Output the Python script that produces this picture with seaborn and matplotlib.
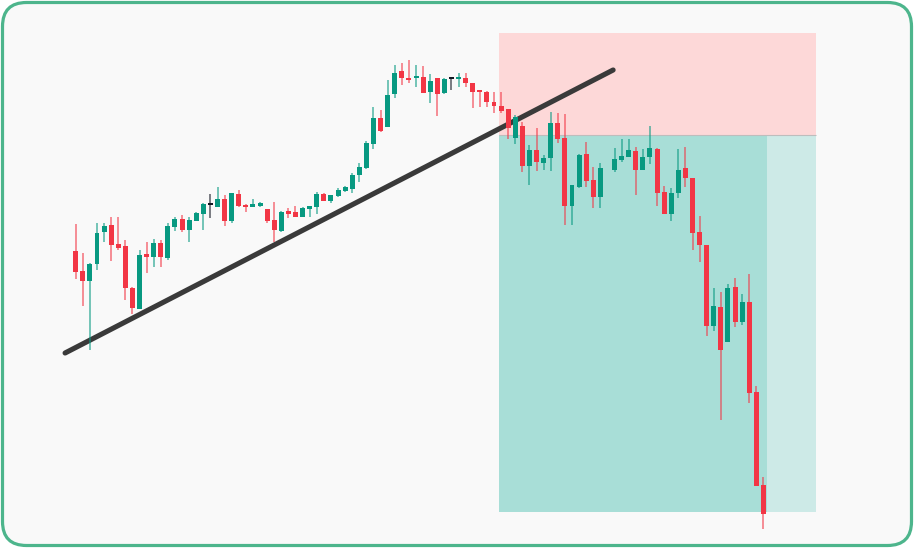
import matplotlib
matplotlib.use("Agg")
import matplotlib.pyplot as plt
from matplotlib.patches import FancyBboxPatch
from matplotlib.transforms import IdentityTransform
import numpy as np
import pandas as pd
import seaborn as sns

## candle data (one slot is empty, no trade that bar)
opens = [
    34.9, 32.9, 31.9, 33.6, 36.8, 37.5, 35.6, 35.4, 31.2, 29.1,
    34.6, 34.3, 35.7, 34.2, 37.3, 38.1, 37.0, 37.9, 38.6, 39.5,
    39.3, 40.1, 37.9, 40.6, 39.5, 39.3, 39.4, 39.1, 38.0, 36.9,
    38.9, 38.8, 38.3, 39.1, 39.3, 40.6, 39.9, 40.4, 40.9, 41.1,
    42.5, 43.2, 45.6, 48.2, 47.3, 50.6, 52.9, 52.2, 52.2, 52.3,
    50.8, 52.2, 50.7, 52.1, 52.1, 52.2, 51.7, 51.0, 50.8, 49.8,
    49.4, 49.1, 46.2, 47.4, 43.4, 45.0, 43.7, 44.2, 47.7, 46.2,
    39.4, 41.3, 44.6, 42.0, 40.3, None, 43.0, 44.0, 44.3, 44.9,
    43.0, 44.3, 45.1, 40.8, 38.6, 40.7, 43.2, 42.2, 36.8, 35.5,
    27.4, 29.3, 25.8, 31.3, 27.8, 29.8, 20.8, 11.5,
]
highs = [
    37.6, 34.7, 33.7, 37.7, 37.7, 38.3, 38.3, 36.0, 31.3, 35.0,
    35.8, 36.1, 36.0, 37.7, 38.3, 38.5, 38.3, 38.8, 39.7, 40.6,
    41.3, 40.5, 40.7, 41.0, 39.6, 40.1, 39.8, 39.1, 39.8, 38.9,
    39.2, 39.4, 39.3, 39.4, 40.8, 40.7, 40.5, 41.2, 41.4, 42.7,
    43.7, 45.9, 49.3, 49.0, 52.0, 53.5, 53.7, 54.0, 53.5, 53.4,
    52.6, 52.2, 52.2, 52.1, 52.7, 52.7, 51.7, 51.0, 50.9, 50.8,
    50.8, 49.1, 48.5, 47.8, 45.5, 47.2, 44.5, 48.8, 48.7, 48.6,
    41.5, 44.6, 45.8, 43.3, 43.7, None, 45.2, 46.1, 46.1, 45.3,
    45.1, 47.4, 45.2, 41.4, 41.2, 45.1, 45.3, 42.2, 38.4, 35.5,
    31.2, 30.8, 31.6, 32.2, 30.6, 32.6, 21.4, 12.3,
]
lows = [
    32.1, 29.4, 25.0, 33.0, 35.8, 33.9, 35.0, 30.0, 28.6, 29.1,
    32.7, 33.3, 33.3, 34.0, 36.9, 36.8, 35.8, 37.9, 37.0, 38.2,
    39.3, 37.4, 37.7, 39.3, 38.8, 39.3, 39.3, 37.7, 35.8, 36.8,
    38.2, 38.3, 38.3, 38.3, 38.6, 39.9, 39.7, 40.3, 40.8, 40.7,
    41.8, 43.1, 45.1, 46.8, 47.3, 50.2, 51.5, 51.7, 51.3, 50.7,
    49.7, 48.4, 50.6, 51.0, 51.3, 51.3, 49.2, 49.3, 49.3, 48.7,
    48.7, 46.1, 45.6, 42.8, 41.5, 42.9, 43.0, 42.9, 45.7, 37.5,
    37.5, 41.2, 41.3, 39.2, 39.2, None, 42.8, 43.8, 44.3, 40.5,
    43.0, 43.6, 39.4, 38.6, 37.9, 40.2, 41.3, 35.0, 33.8, 26.4,
    26.9, 18.0, 25.8, 27.3, 27.5, 19.7, 11.4, 7.1,
]
closes = [
    32.8, 31.9, 33.6, 36.7, 37.4, 35.5, 35.2, 31.2, 29.2, 34.5,
    34.3, 35.7, 34.3, 37.4, 38.1, 37.0, 38.0, 38.7, 39.6, 39.5,
    40.1, 37.9, 40.7, 39.4, 39.3, 39.6, 39.7, 37.9, 37.0, 38.8,
    38.6, 38.3, 39.2, 39.4, 40.6, 39.9, 40.5, 41.0, 41.3, 42.5,
    43.3, 45.7, 48.2, 46.9, 50.5, 52.7, 52.2, 52.0, 52.4, 50.7,
    51.9, 50.6, 52.1, 52.1, 52.3, 51.7, 50.8, 50.8, 49.8, 49.4,
    48.9, 47.2, 48.3, 43.4, 45.0, 43.8, 44.2, 47.7, 46.1, 39.4,
    41.5, 44.5, 41.9, 40.3, 43.2, None, 44.1, 44.4, 45.0, 43.0,
    44.3, 45.2, 40.7, 38.6, 40.7, 43.0, 42.2, 36.7, 35.5, 27.4,
    29.4, 25.0, 31.2, 27.8, 29.8, 20.7, 11.4, 8.6,
]

## short position tool: stop / entry / target levels and bar span
stop_price = 56.7
entry_price = 46.5
target_price = 8.8
trade_start = 59.7
trade_end = 97.5
tool_end = 104.4

## trendline anchor points (bar index, price)
trend_x = [-1.5, 75.8]
trend_y = [24.7, 53.0]

GREEN = "#089981"
RED = "#f23645"
DOJI = "#131722"

sns.set_style("white")
fig = plt.figure(figsize=(9.14, 5.48), dpi=100)
fig.patch.set_facecolor("white")

# rounded card behind the chart
card = FancyBboxPatch(
    (2.5, 2.5), 909, 543,
    boxstyle="round,pad=0,rounding_size=24",
    transform=IdentityTransform(),
    facecolor="#f9f9f9", edgecolor="#4db58c", linewidth=2.3, zorder=-1,
)
fig.add_artist(card)

ax = fig.add_axes([0, 0, 1, 1])
ax.set_facecolor("none")

# position tool boxes
ax.fill_between([trade_start, tool_end], entry_price, stop_price,
                color="#fdd8d8", lw=0, zorder=1)
ax.fill_between([trade_start, trade_end], target_price, entry_price,
                color="#a8ded7", lw=0, zorder=1)
ax.fill_between([trade_end, tool_end], target_price, entry_price,
                color="#cdeae7", lw=0, zorder=1)
ax.hlines(entry_price, trade_start, tool_end, color="#bdbdbd", lw=0.8, zorder=1.5)

# trendline
trend = pd.DataFrame({"x": trend_x, "y": trend_y})
sns.lineplot(data=trend, x="x", y="y", ax=ax, color="#3a3a3a", lw=3.7,
             solid_capstyle="round", zorder=2)

# candles
df = pd.DataFrame({"open": opens, "high": highs, "low": lows, "close": closes},
                  dtype=float)
df["pos"] = np.arange(len(df))
df = df.dropna()
groups = [
    (df.close > df.open, GREEN),
    (df.close < df.open, RED),
    (df.close == df.open, DOJI),
]
for mask, color in groups:
    sub = df[mask]
    ax.vlines(sub.pos, sub.low, sub.high, color=color, lw=1.1, alpha=0.7, zorder=3)
    height = (sub.close - sub.open).abs().clip(lower=0.15)
    bottom = np.minimum(sub.open, sub.close)
    ax.bar(sub.pos, height, bottom=bottom, width=0.7, color=color, lw=0, zorder=4)

ax.set_xlim(-10.68, 118.24)
ax.set_ylim(5.2, 60.0)
ax.set_axis_off()

fig.savefig("out.png", dpi=100)
plt.close(fig)
